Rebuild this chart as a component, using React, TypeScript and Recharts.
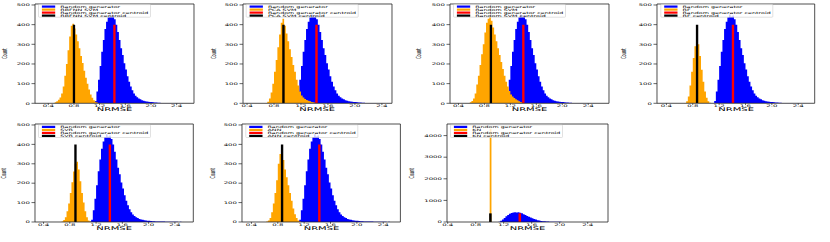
import React from 'react';
import { ComposedChart, Area, XAxis, YAxis, ReferenceArea } from 'recharts';

const FONT = '"DejaVu Sans", sans-serif';

// ---------------- data ----------------
const binWidth = 0.025;
const randomStart = 1.1;
const randomCounts = [
  2, 12, 60, 120, 190, 262, 322, 378, 415, 438, 452, 440, 446, 428, 400, 362,
  322, 280, 246, 204, 172, 138, 110, 86, 66, 50, 39, 31, 25, 20, 16, 13, 11, 9,
  8, 7, 6, 5, 4, 4, 3, 3, 2, 2, 2, 2, 1, 1, 1, 1, 1, 1, 1, 1, 0, 1,
];
const randomLabel = 'Random generator';
const randomCentroidLabel = 'Random generator centroid';
const randomCentroids = [1.43, 1.43, 1.4, 1.41, 1.41, 1.43, 1.43];

const methodNames = ['RBFNN SVM', 'PCA SVM', 'Random SVM', 'RF', 'SVR', 'ANN', 'KN'];
const methodStarts = [0.475, 0.675, 0.55, 0.675, 0.675, 0.625, 1.0];
const rbfnnCounts = [2, 5, 10, 18, 30, 50, 85, 140, 200, 270, 340, 395, 405, 380, 350, 315, 280, 240, 205, 165, 130, 100, 70, 45, 28, 15, 8, 4, 2, 1];
const pcaCounts = [2, 8, 25, 55, 100, 160, 220, 285, 350, 410, 430, 395, 355, 315, 275, 235, 195, 160, 120, 90, 60, 40, 30, 22, 17, 13, 10, 7, 5, 3, 2];
const randomSvmCounts = [2, 5, 12, 25, 50, 95, 140, 195, 250, 300, 360, 410, 430, 440, 420, 385, 350, 315, 280, 245, 210, 175, 140, 110, 85, 62, 45, 35, 27, 20, 15, 10, 6, 3, 1];
const rfCounts = [2, 10, 35, 90, 160, 230, 290, 320, 300, 240, 170, 110, 60, 28, 10, 3];
const svrCounts = [3, 10, 25, 55, 95, 150, 205, 260, 300, 310, 270, 210, 150, 100, 55, 25, 8, 2];
const annCounts = [2, 8, 20, 50, 95, 150, 215, 300, 350, 355, 320, 270, 230, 190, 150, 110, 70, 40, 20, 8, 2];
const knCounts = [4320];
const methodCounts = [rbfnnCounts, pcaCounts, randomSvmCounts, rfCounts, svrCounts, annCounts, knCounts];
const methodCentroids = [0.8, 0.94, 0.9, 0.865, 0.886, 0.865, 1.01];
const centroidHeight = 400;

const xTicks = [0.4, 0.8, 1.2, 1.6, 2.0, 2.4];
const countTicks = [0, 100, 200, 300, 400, 500];
const countTicksLarge = [0, 1000, 2000, 3000, 4000];

// ---------------- layout ----------------
const layout = [
  { L: 35, R: 194, T: 4, B: 103.3, xMin: 0.193, xMax: 2.67, yMax: 505, countX: 4 },
  { L: 242.7, R: 391.7, T: 4, B: 103.3, xMin: 0.34, xMax: 2.55, yMax: 505, countX: 213 },
  { L: 450, R: 609, T: 4, B: 103.3, xMin: 0.27, xMax: 2.72, yMax: 505, countX: 418 },
  { L: 657.3, R: 815, T: 4, B: 103.3, xMin: 0.257, xMax: 2.65, yMax: 505, countX: 623 },
  { L: 35, R: 193.3, T: 124.3, B: 222.3, xMin: 0.27, xMax: 2.68, yMax: 505, countX: 3.5 },
  { L: 242.3, R: 400.7, T: 124.3, B: 222.3, xMin: 0.257, xMax: 2.66, yMax: 505, countX: 212.7 },
  { L: 447, R: 608, T: 124.3, B: 222.3, xMin: 0.39, xMax: 2.69, yMax: 4537, countX: 411.5 },
];
const barHalf = 0.018;
const BLUE = '#0000ff';
const ORANGE = '#ffa500';
const RED = '#ff0000';
const BLACK = '#000000';

function buildRows(i: number) {
  const rows: any[] = [];
  const byK = new Map<number, any>();
  const row = (k: number) => {
    if (!byK.has(k)) {
      const r: any = { x: +(k * binWidth).toFixed(4) };
      byK.set(k, r);
      rows.push(r);
    }
    return byK.get(k);
  };
  const add = (start: number, counts: number[], key: string) => {
    const k0 = Math.round(start / binWidth);
    counts.forEach((c, j) => {
      row(k0 + j)[key] = c;
    });
    row(k0 + counts.length)[key] = 0;
  };
  add(randomStart, randomCounts, 'random');
  add(methodStarts[i], methodCounts[i], 'method');
  rows.push({ x: randomCentroids[i] - barHalf, rc: centroidHeight });
  rows.push({ x: randomCentroids[i] + barHalf, rc: 0 });
  rows.push({ x: methodCentroids[i] - barHalf, mc: centroidHeight });
  rows.push({ x: methodCentroids[i] + barHalf, mc: 0 });
  rows.sort((a, b) => a.x - b.x);
  return rows;
}

const XTick = (props: any) => {
  const { x, y, payload } = props;
  return (
    <g transform={`translate(${x},${y + 0.9}) scale(1,0.5)`}>
      <text textAnchor="middle" dominantBaseline="central" fontSize={7} fontFamily={FONT} fill="#000">
        {Number(payload.value).toFixed(1)}
      </text>
    </g>
  );
};

const YTick = (props: any) => {
  const { x, y, payload } = props;
  return (
    <g transform={`translate(${x},${y}) scale(1,0.5)`}>
      <text textAnchor="end" dominantBaseline="central" fontSize={7} fontFamily={FONT} fill="#000">
        {payload.value}
      </text>
    </g>
  );
};

function Panel({ i }: { i: number }) {
  const p = layout[i];
  const rows = buildRows(i);
  const w = p.R - p.L + 37;
  const h = p.B - p.T + 16;
  const yTicks = p.yMax > 1000 ? countTicksLarge : countTicks;
  const common = { type: 'stepAfter' as const, stroke: 'none', fillOpacity: 1, isAnimationActive: false, dot: false, activeDot: false, connectNulls: true };
  return (
    <div style={{ position: 'absolute', left: p.L - 35, top: p.T - 2, width: w, height: h }}>
      <ComposedChart width={w} height={h} data={rows} margin={{ top: 2, right: 2, left: 0, bottom: 0 }}>
        <XAxis
          dataKey="x"
          type="number"
          domain={[p.xMin, p.xMax]}
          ticks={xTicks}
          allowDataOverflow
          interval={0}
          axisLine={false}
          tickLine={{ stroke: '#222', strokeWidth: 0.7 }}
          tickSize={1.8}
          tickMargin={0}
          height={14}
          tick={<XTick />}
        />
        <YAxis
          type="number"
          domain={[0, p.yMax]}
          ticks={yTicks}
          allowDataOverflow
          interval={0}
          axisLine={false}
          tickLine={{ stroke: '#222', strokeWidth: 0.7 }}
          tickSize={3.5}
          tickMargin={1.5}
          width={35}
          tick={<YTick />}
        />
        <Area {...common} dataKey="random" fill={BLUE} />
        <Area {...common} dataKey="method" fill={ORANGE} />
        <Area {...common} dataKey="rc" fill={RED} />
        <Area {...common} dataKey="mc" fill={BLACK} />
        <ReferenceArea
          x1={p.xMin}
          x2={p.xMax}
          y1={0}
          y2={p.yMax}
          fill="none"
          fillOpacity={0}
          stroke="#222"
          strokeWidth={0.8}
          ifOverflow="visible"
        />
      </ComposedChart>
    </div>
  );
}

function Texts() {
  const colors = [BLUE, ORANGE, RED, BLACK];
  return (
    <svg width={830} height={242} style={{ position: 'absolute', left: 0, top: 0, pointerEvents: 'none' }}>
      {layout.map((p, i) => {
        const cy = (p.T + p.B) / 2;
        const cx = (p.L + p.R) / 2;
        const bx = p.L + 3.5;
        const by = p.T + 0.6;
        const labels = [randomLabel, methodNames[i], randomCentroidLabel, methodNames[i] + ' centroid'];
        return (
          <g key={i}>
            <text
              transform={`translate(${p.countX},${cy}) scale(1,0.5) rotate(-90)`}
              textAnchor="middle"
              dominantBaseline="central"
              fontSize={7}
              fontFamily={FONT}
              fill="#000"
            >
              Count
            </text>
            <text
              transform={`translate(${cx},${p.B + 6}) scale(1,0.5)`}
              textAnchor="middle"
              dominantBaseline="central"
              fontSize={10}
              fontFamily={FONT}
              fill="#000"
            >
              NRMSE
            </text>
            <rect x={bx} y={by} width={112} height={12.6} rx={0.8} fill="#fff" fillOpacity={0.8} stroke="#ccc" strokeWidth={0.6} />
            {labels.map((lab, j) => {
              const ry = by + 2 + j * 3;
              return (
                <g key={j}>
                  <rect x={bx + 3.4} y={ry - 1.1} width={13.3} height={2.2} fill={colors[j]} />
                  <text
                    transform={`translate(${bx + 21.7},${ry}) scale(1,0.5)`}
                    dominantBaseline="central"
                    fontSize={6.4}
                    fontFamily={FONT}
                    fill="#000"
                  >
                    {lab}
                  </text>
                </g>
              );
            })}
          </g>
        );
      })}
    </svg>
  );
}

export default function App() {
  return (
    <div style={{ position: 'absolute', left: 0, top: 0, width: 830, height: 242, background: '#fff', overflow: 'hidden' }}>
      {layout.map((_, i) => (
        <Panel key={i} i={i} />
      ))}
      <Texts />
    </div>
  );
}
